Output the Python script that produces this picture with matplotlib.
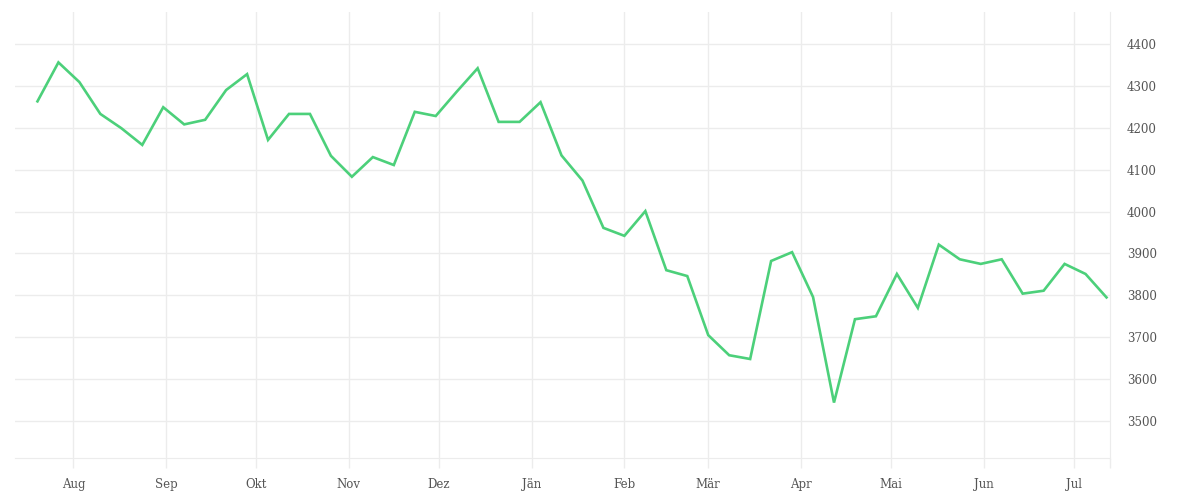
import numpy as np
import pandas as pd
import matplotlib
matplotlib.use('Agg')
import matplotlib.pyplot as plt
import matplotlib.dates as mdates

# weekly values
start_date = '2021-07-20'
values = [4263, 4356, 4309, 4233, 4199, 4159, 4249, 4208, 4219, 4290,
          4328, 4171, 4233, 4233, 4133, 4083, 4130, 4111, 4238, 4228,
          4286, 4342, 4214, 4214, 4261, 4134, 4074, 3961, 3942, 4001,
          3860, 3846, 3705, 3657, 3648, 3882, 3903, 3796, 3544, 3743,
          3750, 3851, 3770, 3921, 3886, 3875, 3886, 3804, 3811, 3875,
          3851, 3795]
month_labels = ['Aug', 'Sep', 'Okt', 'Nov', 'Dez', 'Jän', 'Feb', 'Mär',
                'Apr', 'Mai', 'Jun', 'Jul']
y_ticks = [3500, 3600, 3700, 3800, 3900, 4000, 4100, 4200, 4300, 4400]

dates = pd.date_range(start_date, periods=len(values), freq='7D')
month_ticks = pd.date_range('2021-08-01', periods=len(month_labels), freq='MS')

grid_col = '#ececec'
text_col = '#555555'

plt.rcParams['font.family'] = ['DejaVu Serif']

fig = plt.figure(figsize=(12, 5), dpi=100)
ax = fig.add_axes([0.0125, 0.084, 0.9125, 0.892])

ax.plot(dates, values, color='#4cd07a', linewidth=1.9, solid_joinstyle='miter')

ax.set_xlim(pd.Timestamp('2021-07-12 12:00'), pd.Timestamp('2022-07-13 04:00'))
ax.set_ylim(3411.7, 4476.3)

ax.set_xticks(month_ticks)
ax.set_xticklabels(month_labels)
ax.set_xticks([ax.get_xlim()[1]], minor=True)
ax.set_yticks(y_ticks)
ax.yaxis.tick_right()

ax.grid(True, color=grid_col, linewidth=1)
ax.set_axisbelow(True)

for side in ['top', 'left']:
    ax.spines[side].set_visible(False)
ax.spines['bottom'].set_color(grid_col)
ax.spines['right'].set_color(grid_col)

ax.tick_params(axis='x', which='both', length=7.5, color=grid_col, width=1,
               labelsize=8.5, labelcolor=text_col, pad=7)
ax.tick_params(axis='y', length=0, labelsize=8.5, labelcolor=text_col, pad=12)

fig.savefig('out.png', dpi=100)
